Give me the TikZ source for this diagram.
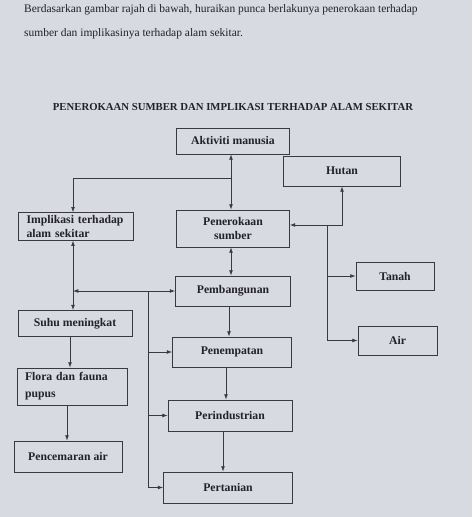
\documentclass[tikz,border=0pt]{standalone}
\usepackage{fontspec}
\setmainfont{Liberation Serif}
\usetikzlibrary{arrows.meta,calc}

\definecolor{kertas}{RGB}{216,218,225}
\definecolor{garis}{RGB}{58,58,62}
\definecolor{dakwat}{RGB}{34,34,40}

\tikzset{
  kotak/.style={draw=garis,line width=0.6pt,text=dakwat,font=\fontsize{10}{12.5}\selectfont\bfseries,
    minimum height=#1,inner sep=2pt,align=center},
  kotak/.default=8mm,
  anak/.style={garis,line width=0.6pt}
}

\begin{document}
\begin{tikzpicture}[x=0.03cm,y=-0.03cm,>={Latex[length=4.5pt,width=3.2pt]}]
  \fill[kertas] (0,0) rectangle (472,517);
  \useasboundingbox (0,0) rectangle (472,517);

  % arahan dan tajuk
  \node[anchor=west,text=dakwat,font=\fontsize{9.8}{11}\selectfont,inner sep=0pt] (soalan1) at (24,10) {Berdasarkan gambar rajah di bawah, huraikan punca berlakunya penerokaan terhadap};
  \node[anchor=west,text=dakwat,font=\fontsize{9.8}{11}\selectfont,inner sep=0pt] (soalan2) at (24,34) {sumber dan implikasinya terhadap alam sekitar.};
  \node[text=dakwat,font=\fontsize{9.15}{10}\selectfont\bfseries,inner sep=0pt] (tajuk) at (233,107) {PENEROKAAN SUMBER DAN IMPLIKASI TERHADAP ALAM SEKITAR};

  % lajur tengah
  \node[kotak=26*0.03cm,minimum width=113*0.03cm] (aktiviti) at (233,141) {Aktiviti manusia};
  \node[kotak=37*0.03cm,minimum width=113*0.03cm] (penerokaan) at (233,228.5) {Penerokaan\\sumber};
  \node[kotak=30*0.03cm,minimum width=115*0.03cm] (pembangunan) at (233,291) {Pembangunan};
  \node[kotak=30*0.03cm,minimum width=119*0.03cm] (penempatan) at (232,352) {Penempatan};
  \node[kotak=31*0.03cm,minimum width=124*0.03cm] (perindustrian) at (230,415.5) {Perindustrian};
  \node[kotak=31*0.03cm,minimum width=129*0.03cm] (pertanian) at (228,487.5) {Pertanian};

  % lajur kanan
  \node[kotak=30*0.03cm,minimum width=117*0.03cm] (hutan) at (342,171) {Hutan};
  \node[kotak=28*0.03cm,minimum width=78*0.03cm] (tanah) at (395,276) {Tanah};
  \node[kotak=29*0.03cm,minimum width=79*0.03cm] (air) at (397.5,340.5) {Air};

  % lajur kiri
  \node[kotak=27*0.03cm,minimum width=115*0.03cm,text width=99*0.03cm,align=left] (implikasi) at (76,226.5) {Implikasi terhadap\\alam sekitar};
  \node[kotak=26*0.03cm,minimum width=114*0.03cm] (suhu) at (75,323.5) {Suhu meningkat};
  \node[kotak=37*0.03cm,minimum width=110*0.03cm,text width=94*0.03cm,align=left] (flora) at (72,386.5) {Flora dan fauna\\[2pt]pupus};
  \node[kotak=31*0.03cm,minimum width=108*0.03cm] (pencemaran) at (68,456.5) {Pencemaran air};

  % simpang
  \coordinate (ja) at (231,178);
  \coordinate (jh) at (342,225);
  \coordinate (jt) at (327,225);
  \coordinate (jp) at (148,291);
  \coordinate (jk) at (73,0);

  \draw[anak,<->] (aktiviti.south -| ja) -- (penerokaan.north -| ja);
  \draw[anak,->] (ja) -| (implikasi.north -| jk);
  \draw[anak,<->] (penerokaan.south -| ja) -- (pembangunan.north -| ja);
  \draw[anak,<->] (penerokaan.east |- jh) -- (jh) -- (hutan);
  \draw[anak,->] (jt) |- (air);
  \draw[anak,->] (jt |- tanah) -- (tanah);

  \draw[anak,<->] (implikasi.south -| jk) -- (suhu.north -| jk);
  \draw[anak,->] (suhu.south -| 70,0) -- (flora.north -| 70,0);
  \draw[anak,->] (flora.south -| 67,0) -- (pencemaran.north -| 67,0);

  \draw[anak,->] (jp) -- (pembangunan);
  \draw[anak,->] (jp) -- (jp -| jk);
  \foreach \n in {penempatan,perindustrian,pertanian}
    \draw[anak,->] (jp) |- (\n);

  \draw[anak,->] (pembangunan.south -| 229,0) -- (penempatan.north -| 229,0);
  \draw[anak,->] (penempatan.south -| 226,0) -- (perindustrian.north -| 226,0);
  \draw[anak,->] (perindustrian.south -| 223,0) -- (pertanian.north -| 223,0);
\end{tikzpicture}
\end{document}
